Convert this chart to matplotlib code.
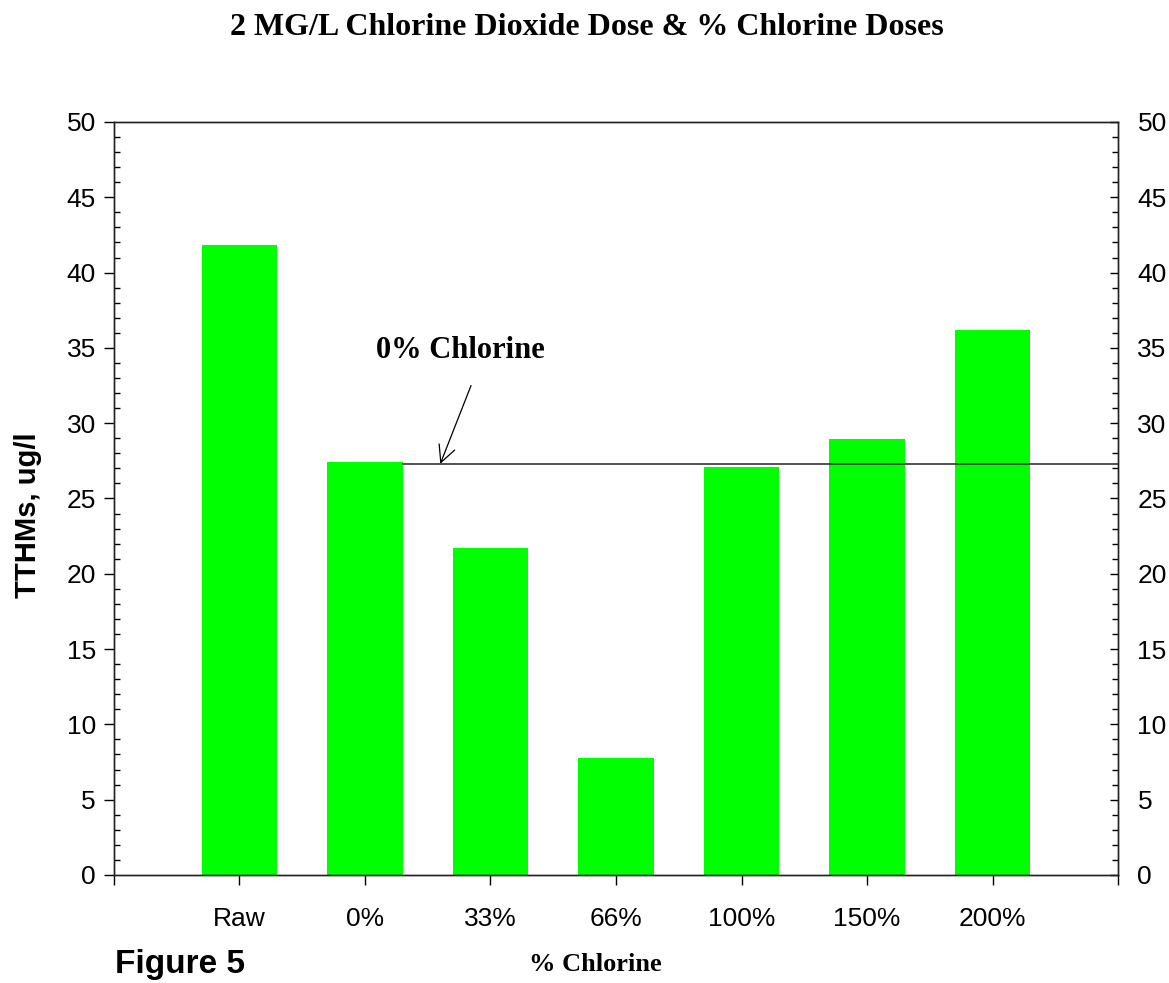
import numpy as np
import matplotlib.pyplot as plt
from matplotlib.ticker import MultipleLocator

# datos
categorias = ['Raw', '0%', '33%', '66%', '100%', '150%', '200%']
tthms = [41.8, 27.4, 21.7, 7.8, 27.1, 28.95, 36.2]
nivel_0pct = 27.3

fig = plt.figure(figsize=(11.69, 9.83), dpi=100)
ax = fig.add_axes([0.0975, 0.1099, 0.8589, 0.766])

x = np.arange(len(categorias))
ax.bar(x, tthms, width=0.6, color='#00ff00', zorder=2)

# linea de referencia (0% cloro) desde el borde derecho de la barra de 0%
ax.plot([x[1] + 0.3, len(categorias)], [nivel_0pct, nivel_0pct],
        color='#333333', lw=1.2, zorder=3)
ax.annotate('', xy=(1.6, nivel_0pct), xytext=(1.845, 32.5),
            arrowprops=dict(arrowstyle='->', color='black', lw=0.9,
                            shrinkA=0, shrinkB=0, mutation_scale=30))
ax.text(1.76, 34.8, '0% Chlorine', fontsize=22, fontweight='bold',
        family='Liberation Serif', ha='center', va='center')

ax.set_xlim(-1, len(categorias))
ax.set_ylim(0, 50)

ax.set_xticks(np.arange(-1, len(categorias) + 1))
ax.set_xticklabels([''] + categorias + [''], family='Liberation Sans', fontsize=19)
ax.tick_params(axis='x', direction='out', length=7, width=1, pad=16)

ax.yaxis.set_major_locator(MultipleLocator(5))
ax.yaxis.set_minor_locator(MultipleLocator(1))
ax.tick_params(axis='y', which='major', direction='out', length=7, width=1,
               labelsize=19, pad=6)
ax.tick_params(axis='y', which='minor', direction='in', length=4, width=1)
for lab in ax.get_yticklabels():
    lab.set_family('Liberation Sans')

# eje derecho con las mismas marcas, hacia adentro
ax2 = ax.twinx()
ax2.set_ylim(0, 50)
ax2.yaxis.set_major_locator(MultipleLocator(5))
ax2.yaxis.set_minor_locator(MultipleLocator(1))
ax2.tick_params(axis='y', which='major', direction='in', length=6, width=1,
                labelsize=19, pad=14)
ax2.tick_params(axis='y', which='minor', direction='in', length=4, width=1)
for lab in ax2.get_yticklabels():
    lab.set_family('Liberation Sans')

for a in (ax, ax2):
    for s in a.spines.values():
        s.set_color('#222222')
        s.set_linewidth(1)

ax.set_ylabel('TTHMs, ug/l', family='Liberation Sans', fontweight='bold', fontsize=21)
ax.yaxis.set_label_coords(-0.072, 0.478)
ax.set_xlabel('% Chlorine', family='Liberation Serif', fontweight='bold', fontsize=19)
ax.xaxis.set_label_coords(0.479, -0.104)

fig.text(0.502, 0.972, '2 MG/L Chlorine Dioxide Dose & % Chlorine Doses',
         ha='center', va='center', family='Liberation Serif', fontweight='bold', fontsize=23)
fig.text(0.098, 0.003, 'Figure 5', ha='left', va='bottom',
         family='Liberation Sans', fontweight='bold', fontsize=24)

fig.savefig('out.png', dpi=100)
